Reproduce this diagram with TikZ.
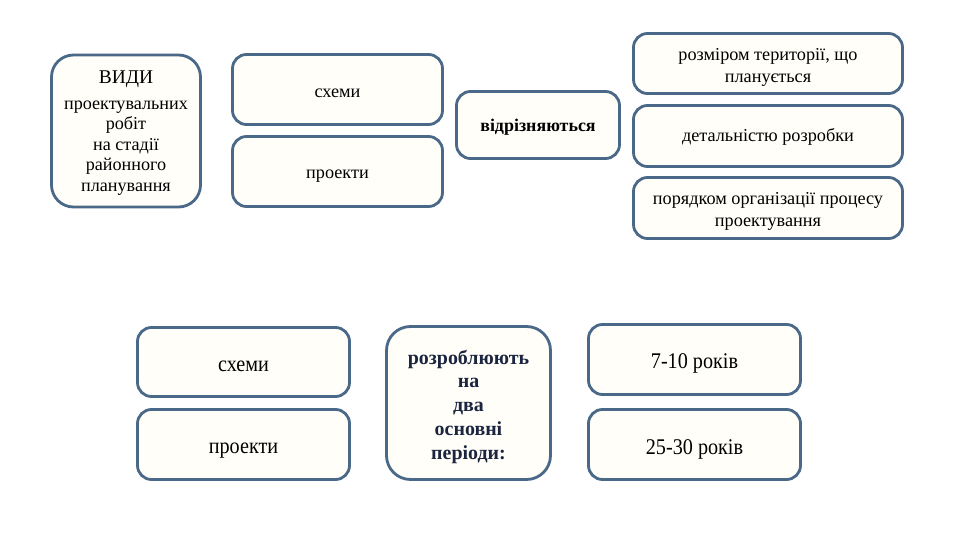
\documentclass[tikz,border=0pt]{standalone}
\usepackage{fontspec}
\setmainfont{Liberation Serif}
\newfontfamily\tnr{Liberation Serif}
\newfontfamily\condfont[FakeStretch=0.9]{Liberation Serif}
\definecolor{bord}{HTML}{4A6888}
\definecolor{navy}{HTML}{1C2540}
\definecolor{paper}{HTML}{FFFEF8}
\newcommand\tx[2]{\raisebox{-#1bp}[\height][\depth]{\begin{tabular}{@{}c@{}}#2\end{tabular}}}
\tikzset{
  box/.style={draw=bord, line width=2.8bp, rounded corners=14bp, fill=paper,
    align=center, inner sep=2bp, font=\tnr\fontsize{18.3}{22}\selectfont},
  bigbox/.style={box, font=\condfont\fontsize{22.5}{26}\selectfont},
}
\begin{document}
\begin{tikzpicture}[x=1bp,y=-1bp]
\useasboundingbox[fill=white] (0,0) rectangle (960,540);
\node[box, rounded corners=22bp, minimum width=149bp, minimum height=152bp,
  font=\tnr\fontsize{18.2}{20.6}\selectfont] (vydy) at (126,131)
  {\tx{2.5}{{\fontsize{19.5}{25}\selectfont ВИДИ}\\[5bp] проектувальних\\ робіт\\ на стадії\\ районного\\ планування}};
\node[box, minimum width=210bp, minimum height=70bp] (s1) at (337.5,89.5) {\tx{4}{схеми}};
\node[box, minimum width=210bp, minimum height=70bp] (p1) at (337.5,171.5) {\tx{3}{проекти}};
\node[box, minimum width=163bp, minimum height=67bp, font=\tnr\bfseries\fontsize{18}{20}\selectfont] (vidr) at (538,125) {\tx{3}{відрізняються}};
\node[box, minimum width=269bp, minimum height=60bp] (rozm) at (768,63.5) {\tx{4}{розміром території, що\\ планується}};
\node[box, minimum width=269bp, minimum height=61bp] (det) at (768,136) {\tx{1.5}{детальністю розробки}};
\node[box, minimum width=269bp, minimum height=61bp] (por) at (768,208) {\tx{3}{порядком організації процесу\\ проектування}};
\node[bigbox, minimum width=212bp, minimum height=69bp] (s2) at (243.5,362) {\tx{4}{схеми}};
\node[bigbox, minimum width=212bp, minimum height=70bp] (p2) at (243.5,444.5) {\tx{4}{проекти}};
\node[bigbox, rounded corners=24bp, minimum width=164bp, minimum height=153bp, text=navy,
  font=\tnr\bfseries\fontsize{20}{23.9}\selectfont] (rozr) at (468.5,403)
  {\tx{4}{розроблюють\\ на\\ два\\ основні\\ періоди:}};
\node[bigbox, minimum width=212bp, minimum height=70bp] (r1) at (694.5,359.5) {\tx{4}{7-10 років}};
\node[bigbox, minimum width=212bp, minimum height=70bp] (r2) at (694.5,444.5) {\tx{4.5}{25-30 років}};
\end{tikzpicture}
\end{document}
